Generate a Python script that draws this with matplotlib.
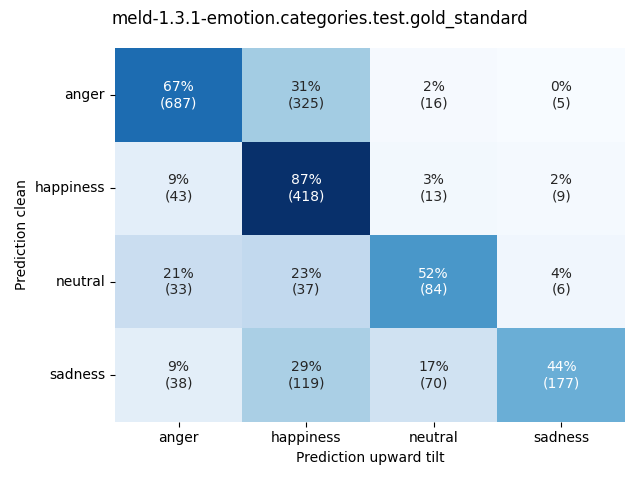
import matplotlib
matplotlib.use("Agg")
import matplotlib.pyplot as plt
import seaborn as sns
import numpy as np

labels = ["anger", "happiness", "neutral", "sadness"]
counts = [
    [687, 325, 16, 5],
    [43, 418, 13, 9],
    [33, 37, 84, 6],
    [38, 119, 70, 177],
]
percents = [
    [67, 31, 2, 0],
    [9, 87, 3, 2],
    [21, 23, 52, 4],
    [9, 29, 17, 44],
]

c = np.array(counts, dtype=float)
frac = c / c.sum(axis=1, keepdims=True)
annot = [[f"{percents[i][j]}%\n({counts[i][j]})" for j in range(4)] for i in range(4)]

fig, ax = plt.subplots(figsize=(6.4, 4.8), dpi=100)
sns.heatmap(frac, annot=np.array(annot), fmt="", cmap="Blues", cbar=False,
            xticklabels=labels, yticklabels=labels, ax=ax)
ax.set_xlabel("Prediction upward tilt")
ax.set_ylabel("Prediction clean")
plt.setp(ax.get_yticklabels(), rotation=0)
fig.suptitle("meld-1.3.1-emotion.categories.test.gold_standard")
fig.tight_layout()
fig.savefig("out.png")
